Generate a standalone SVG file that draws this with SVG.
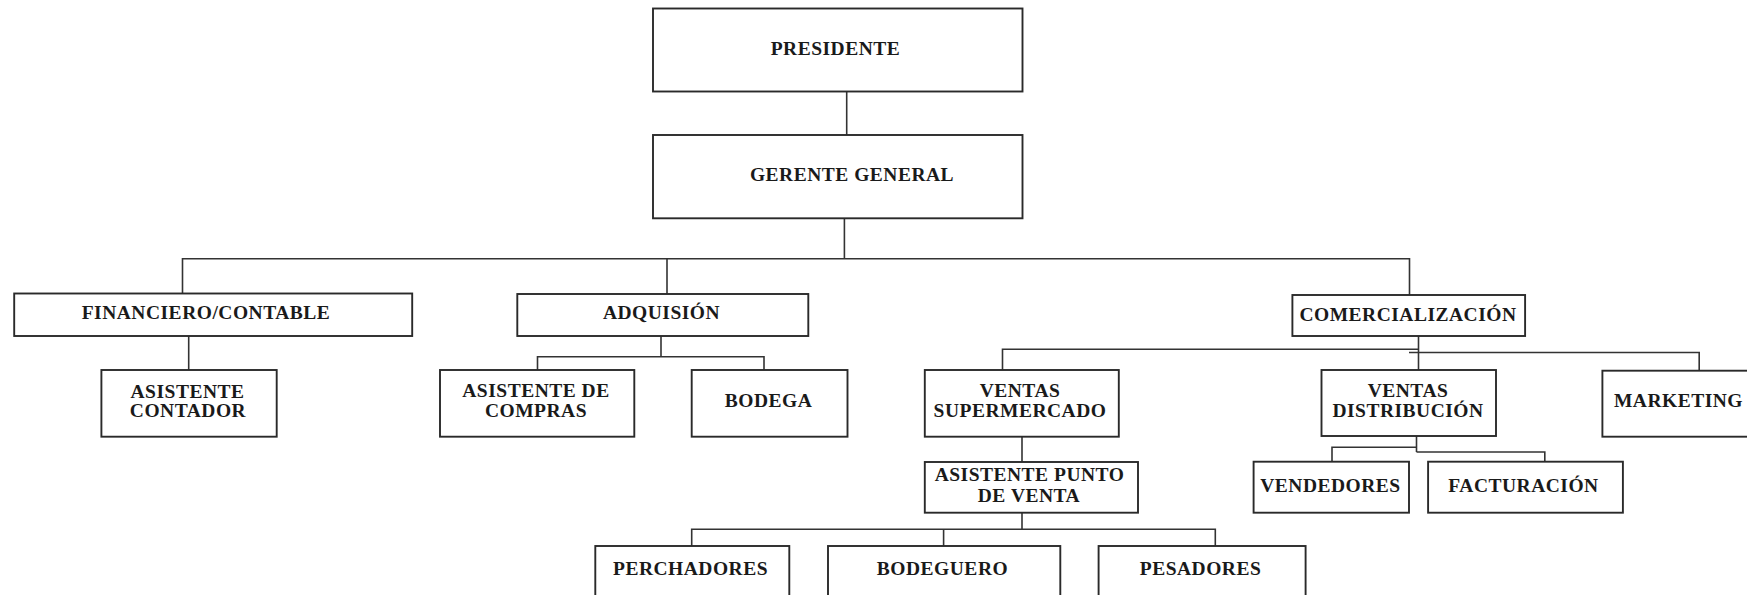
<svg xmlns="http://www.w3.org/2000/svg" width="1747" height="595" viewBox="0 0 1747 595">
<style>
.box{fill:#fff;stroke:#2a2a2a;stroke-width:1.9}
.t{font-family:"Liberation Serif","Times New Roman",serif;font-weight:bold;font-size:19.5px;letter-spacing:0.5px;fill:#1a1a1a;text-anchor:middle}
.c{fill:none;stroke:#333;stroke-width:1.6}
</style>
<rect width="1747" height="595" fill="#fff"/>
<g id="connectors">
<path class="c" d="M846.7 91.7V135"/>
<path class="c" d="M844.4 218.3V258.8"/>
<path class="c" d="M182.5 293.5V258.8H1409.5V295"/>
<path class="c" d="M667 258.8V294"/>
<path class="c" d="M188.7 336V370"/>
<path class="c" d="M661 336V356.7"/>
<path class="c" d="M537.5 370V356.7H764V370"/>
<path class="c" d="M1418.5 336V370"/>
<path class="c" d="M1002.5 370V349.3H1418.5"/>
<path class="c" d="M1409 352.5H1699.2V370.7"/>
<path class="c" d="M1022 436.7V462"/>
<path class="c" d="M1022 512.7V529.3"/>
<path class="c" d="M691.7 546V529.3H1215.3V546"/>
<path class="c" d="M943.6 529.3V546"/>
<path class="c" d="M1416.5 436V452"/>
<path class="c" d="M1332 461.7V447.3H1416.5"/>
<path class="c" d="M1416.5 452H1544.8V461.7"/>
</g>
<g id="presidente"><rect class="box" x="653" y="8.5" width="369.5" height="83"/><text class="t" x="835.5" y="54.5">PRESIDENTE</text></g>
<g id="gerente"><rect class="box" x="653" y="135" width="369.5" height="83.3"/><text class="t" x="852" y="181">GERENTE GENERAL</text></g>
<g id="financiero"><rect class="box" x="14.2" y="293.5" width="398" height="42.5"/><text class="t" x="206" y="319.3">FINANCIERO/CONTABLE</text></g>
<g id="adquision"><rect class="box" x="517.3" y="294" width="291" height="42"/><text class="t" x="661.5" y="319.3">ADQUISIÓN</text></g>
<g id="comercializacion"><rect class="box" x="1292.4" y="295" width="232.7" height="41"/><text class="t" x="1408" y="320.7">COMERCIALIZACIÓN</text></g>
<g id="asistente-contador"><rect class="box" x="101.4" y="370" width="175.3" height="66.7"/><text class="t" x="187.5" y="397.7">ASISTENTE</text><text class="t" x="188" y="416.7">CONTADOR</text></g>
<g id="asistente-compras"><rect class="box" x="440" y="370" width="194.3" height="66.7"/><text class="t" x="536" y="397.3">ASISTENTE DE</text><text class="t" x="536" y="416.7">COMPRAS</text></g>
<g id="bodega"><rect class="box" x="691.7" y="370" width="155.8" height="66.7"/><text class="t" x="768.5" y="406.7">BODEGA</text></g>
<g id="ventas-supermercado"><rect class="box" x="924.8" y="370" width="194" height="66.7"/><text class="t" x="1020" y="397.3">VENTAS</text><text class="t" x="1020" y="416.7">SUPERMERCADO</text></g>
<g id="ventas-distribucion"><rect class="box" x="1321.5" y="370" width="174.5" height="66"/><text class="t" x="1408" y="396.7">VENTAS</text><text class="t" x="1408" y="416.7">DISTRIBUCIÓN</text></g>
<g id="marketing"><rect class="box" x="1602.4" y="370.7" width="200" height="66"/><text class="t" x="1678.5" y="406.7">MARKETING</text></g>
<g id="asistente-punto-venta"><rect class="box" x="924.8" y="462" width="213.2" height="50.7"/><text class="t" x="1029.5" y="480.7">ASISTENTE PUNTO</text><text class="t" x="1029" y="501.7">DE VENTA</text></g>
<g id="vendedores"><rect class="box" x="1253.6" y="461.7" width="155.4" height="51"/><text class="t" x="1330.5" y="491.7">VENDEDORES</text></g>
<g id="facturacion"><rect class="box" x="1428.1" y="461.7" width="194.8" height="51"/><text class="t" x="1523.5" y="491.7">FACTURACIÓN</text></g>
<g id="perchadores"><rect class="box" x="595.3" y="546" width="194" height="60"/><text class="t" x="690.5" y="575">PERCHADORES</text></g>
<g id="bodeguero"><rect class="box" x="828" y="546" width="232.3" height="60"/><text class="t" x="942.5" y="575">BODEGUERO</text></g>
<g id="pesadores"><rect class="box" x="1098.6" y="546" width="207" height="60"/><text class="t" x="1200.5" y="575">PESADORES</text></g>
</svg>
